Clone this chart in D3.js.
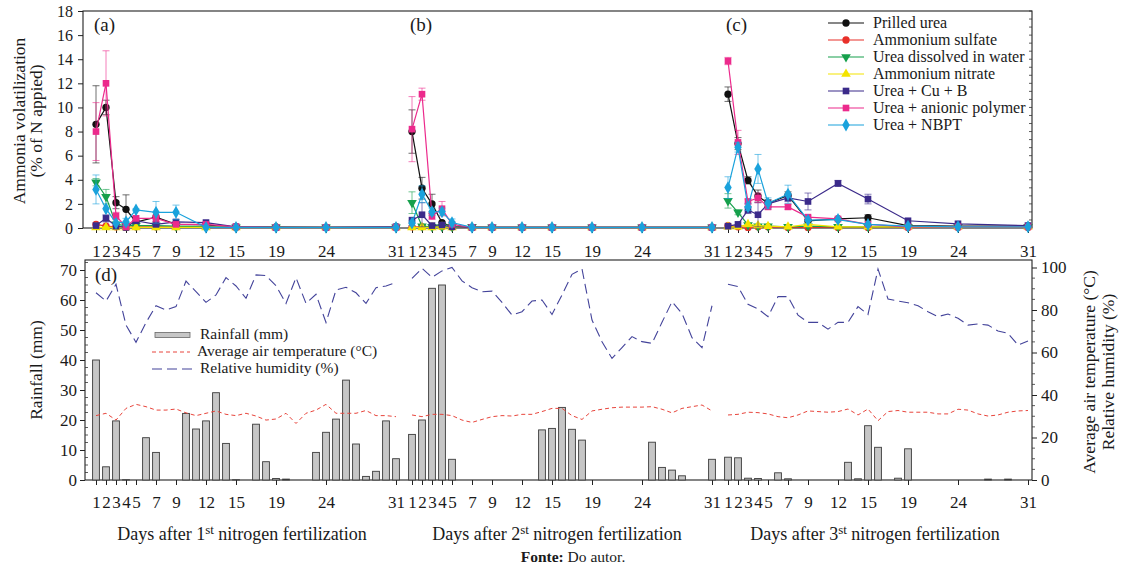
<!DOCTYPE html>
<html><head><meta charset="utf-8">
<script src="https://cdn.jsdelivr.net/npm/d3@7"></script>
<style>
body{margin:0;background:#fff;}
</style></head><body>
<svg id="c" width="1121" height="571"></svg>
<script>
// ---------------- DATA ----------------
const sampleDays = [1,2,3,4,5,7,9,12,15,19,24,31];
const dayTickLabels = ["1","2","3","4","5","7","9","12","15","19","24","31"];
const panelLabels = ["(a)","(b)","(c)"];
const seriesNames = ["Prilled urea","Ammonium sulfate","Urea dissolved in water","Ammonium nitrate","Urea + Cu + B","Urea + anionic polymer","Urea + NBPT"];

// ammonia volatilization (% of N applied), one row per fertilization (a, b, c)
const prilledUrea = [
  [8.6,10.0,2.1,1.55,0.5,0.9,0.3,0.25,0.1,0.1,0.05,0.1],
  [8.0,3.3,2.0,0.45,0.1,0.05,0.05,0.05,0.05,0.05,0.05,0.05],
  [11.1,7.0,3.95,2.65,2.05,2.7,0.6,0.75,0.85,0.2,0.15,0.15]];
const prilledUreaErr = [
  [3.2,0.6,0.5,1.2,0,0,0,0,0,0,0,0],
  [1.8,0.9,0.8,0,0,0,0,0,0,0,0,0],
  [0.6,0.5,0.3,0.5,0.3,0.3,0.1,0,0.25,0,0,0]];
const ammoniumSulfate = [
  [0.3,0.15,0.1,0.05,0.1,0.1,0.1,0.1,0.05,0.05,0.05,0.05],
  [0.1,0.1,0.1,0.1,0.1,0.05,0.05,0.05,0.05,0.05,0.05,0.05],
  [0.2,0.1,0.05,0.1,0.1,0.05,0.05,0.05,0.05,0.05,0.05,0.05]];
const ammoniumSulfateErr = [
  [0,0,0,0,0,0,0,0,0,0,0,0],[0,0,0,0,0,0,0,0,0,0,0,0],[0,0,0,0,0,0,0,0,0,0,0,0]];
const ureaDissolved = [
  [3.8,2.6,0.3,0.2,0.2,0.2,0.15,0.1,0.05,0.05,0.05,0.05],
  [2.1,0.15,0.1,0.1,0.1,0.1,0.05,0.05,0.05,0.05,0.05,0.05],
  [2.25,1.3,0.25,0.15,0.15,0.1,0.15,0.1,0.1,0.1,0.1,0.1]];
const ureaDissolvedErr = [
  [0.3,0.6,0,0,0,0,0,0,0,0,0,0],
  [0.9,0,0,0,0,0,0,0,0,0,0,0],
  [0.6,0.2,0,0,0,0,0,0,0,0,0,0]];
const ammoniumNitrate = [
  [0.05,0.05,0.05,0.05,0.05,0.05,0.05,0.05,0.05,0.05,0.05,0.05],
  [0.05,0.05,0.05,0.1,0.05,0.05,0.05,0.05,0.05,0.05,0.05,0.05],
  [0.1,0.1,0.3,0.2,0.15,0.1,0.3,0.1,0.1,0.1,0.1,0.1]];
const ammoniumNitrateErr = [
  [0,0,0,0,0,0,0,0,0,0,0,0],[0,0,0,0,0,0,0,0,0,0,0,0],[0,0,0,0,0,0,0,0,0,0,0,0]];
const ureaCuB = [
  [0.2,0.8,0.15,0.05,0.6,0.3,0.5,0.45,0.1,0.05,0.05,0.1],
  [0.65,1.1,0.2,0.25,0.1,0.05,0.05,0.05,0.05,0.05,0.05,0.05],
  [0.15,0.3,1.5,1.1,2.0,2.5,2.2,3.7,2.4,0.6,0.35,0.2]];
const ureaCuBErr = [
  [0,0.3,0,0,0,0,0,0,0,0,0,0],
  [0,1.0,0,0,0,0,0,0,0,0,0,0],
  [0,0,0.3,1.0,0.3,0.3,0.7,0.25,0.4,0,0,0]];
const ureaPolymer = [
  [8.0,12.0,1.0,0.1,0.8,0.8,0.3,0.3,0.1,0.05,0.05,0.05],
  [8.2,11.1,1.0,1.6,0.3,0.05,0.05,0.05,0.05,0.05,0.05,0.05],
  [13.85,7.1,2.2,2.5,1.75,1.75,0.9,0.75,0.3,0.1,0.1,0.1]];
const ureaPolymerErr = [
  [2.4,2.7,0.3,0,0.2,0.3,0,0,0,0,0,0],
  [2.7,0.5,0.3,0.6,0,0,0,0,0,0,0,0],
  [0.3,1.0,0.2,0.4,0.2,0.2,0.1,0.1,0,0,0,0]];
const ureaNBPT = [
  [3.2,1.6,0.4,0.5,1.5,1.3,1.3,0.05,0.05,0.05,0.05,0.05],
  [0.4,2.8,1.35,1.35,0.45,0.05,0.05,0.05,0.05,0.05,0.05,0.05],
  [3.35,6.7,1.75,4.9,2.05,2.8,0.65,0.7,0.3,0.15,0.1,0.1]];
const ureaNBPTErr = [
  [1.2,0,0,0.3,0.1,0.9,0.6,0,0,0,0,0],
  [0.2,0.7,0.3,0.3,0.3,0,0,0,0,0,0,0],
  [0.9,0.4,0.3,1.2,0.45,0.75,0,0,0,0,0,0]];

// daily weather, days 1..31 after each fertilization
const rainfall1 = [40,4.4,19.7,0.1,0,14.1,9.2,0,0,22.2,17,19.7,29.1,12.2,0.1,0,18.6,6.1,0.5,0.3,0,0,9.2,15.9,20.3,33.3,12,1.2,2.9,19.7,7.1];
const rainfall2 = [15.2,20,63.9,65,6.9,0,0,0,0,0,0,0,0,16.7,17.2,24.2,16.9,13.3,0,0,0,0,0,0,12.6,4.2,3.3,1.4,0,0,6.9];
const rainfall3 = [7.6,7.4,0.6,0.5,0,2.4,0.4,0,0,0,0,0,5.9,0.4,18.1,10.9,0,0.6,10.4,0,0,0,0,0,0,0,0.3,0,0.3,0,0];
const temperature1 = [30.3,31.4,28.2,33.7,35.6,34.5,32.9,32.9,33.4,31.6,30.3,31.4,32.5,30.9,30.3,31.4,30.1,28.2,28.7,31.4,26.6,31.4,32.9,35.6,31.4,31.4,31.4,32.7,30.3,30.3,29.8];
const temperature2 = [30.6,29.8,30.9,30.9,30.3,28.2,27.1,28.5,29.8,30.3,30.1,30.9,30.9,32.2,33.7,33.7,30.3,28.5,32.5,33.3,34.0,34.3,34.3,34.3,34.5,33.3,31.6,33.7,34.5,35.3,32.5];
const temperature3 = [30.6,30.9,31.9,31.7,31.1,29.8,29.3,30.6,32.5,32.2,31.9,32.2,33.4,30.6,33.4,27.9,32.2,32.7,31.9,31.9,31.9,31.1,31.1,33.3,32.9,31.1,30.1,30.6,31.9,32.5,32.7];
const humidity1 = [88.1,84.2,92.1,72.9,64.8,74.1,82.0,80.0,81.6,93.6,88.6,83.6,87.1,95.2,91.3,85.5,96.5,96.2,91.4,83.1,95.2,83.1,87.4,74.1,89.4,90.7,88.1,83.1,90.5,91.3,93.0];
const humidity2 = [94.9,99.6,95.4,98.4,100,93.7,90.5,88.6,88.9,83.6,77.6,79.2,84.2,84.7,77.9,87.1,96.8,99.3,75.3,65.1,57.2,62.3,67.5,65.1,64.3,74.2,83.9,78.4,67.0,62.3,82.0];
const humidity3 = [92.1,91.0,82.7,80.5,76.9,86.3,86.3,77.6,74.2,74.2,71.0,74.2,74.2,81.6,77.9,99.3,85.2,84.2,83.4,82.0,79.2,76.9,78.1,76.1,72.9,73.4,72.9,70.1,69.0,63.5,65.4];

const topTicks = [0,2,4,6,8,10,12,14,16,18];
const rainTicks = [0,10,20,30,40,50,60,70];
const rightTicks = [0,20,40,60,80,100];
const weatherLegend = ["Rainfall (mm)","Average air temperature (°C)","Relative humidity (%)"];

// ---------------- CHART ----------------
const svg = d3.select("#c");
const FONT = "'Liberation Serif', 'Times New Roman', Times, 'DejaVu Serif', serif";
svg.attr("font-family", FONT).style("font-family", FONT);
const SHIFT = 31.6;                       // spacing between fertilizations on the day axis
const gday = (p, d) => p * SHIFT + d;
const x = d3.scaleLinear().domain([1, gday(2, 31)]).range([96, 1028]);
const yTop = d3.scaleLinear().domain([0, 18]).range([228, 11]);
const yRain = d3.scaleLinear().domain([0, 70]).range([480, 270]);
const yRight = d3.scaleLinear().domain([0, 100]).range([480, 267.5]);

const colors = ["#111111","#e8302a","#16a04c","#f4e400","#3b2a8a","#ec2a8c","#1aa2dc"];
const symbols = [
  {t:d3.symbolCircle, s:42, r:0},
  {t:d3.symbolCircle, s:42, r:0},
  {t:d3.symbolTriangle, s:40, r:180},
  {t:d3.symbolTriangle, s:40, r:0},
  {t:d3.symbolSquare, s:44, r:0},
  {t:d3.symbolSquare, s:44, r:0},
  {t:d3.symbolDiamond, s:48, r:0}];
const values = [prilledUrea, ammoniumSulfate, ureaDissolved, ammoniumNitrate, ureaCuB, ureaPolymer, ureaNBPT];
const errors = [prilledUreaErr, ammoniumSulfateErr, ureaDissolvedErr, ammoniumNitrateErr, ureaCuBErr, ureaPolymerErr, ureaNBPTErr];

const allG = [];
[0,1,2].forEach(p => sampleDays.forEach(d => allG.push(gday(p, d))));

function styleAxis(g, size) {
  g.attr("font-family", FONT).attr("font-size", size);
  g.selectAll("text").attr("fill", "#1a1a1a").style("font-family", FONT);
  g.selectAll("line").attr("stroke", "#222");
  g.select(".domain").remove();
}
function txt(sel) { return sel.append("text").attr("fill", "#1a1a1a").style("font-family", FONT); }

// ---- top panel frame ----
const topG = svg.append("g");
topG.append("rect").attr("x", 83).attr("y", 11).attr("width", 1032 - 83).attr("height", 228 - 11)
  .attr("fill", "none").attr("stroke", "#222").attr("stroke-width", 1.1);
topG.append("g").selectAll("line").data(d3.range(0, 18.01, 2/3)).join("line")
  .attr("x1", 1032).attr("x2", 1029).attr("y1", d => yTop(d)).attr("y2", d => yTop(d))
  .attr("stroke", "#333").attr("stroke-width", 0.8);
topG.append("g").attr("transform", "translate(83,0)")
  .call(d3.axisLeft(yTop).tickValues(topTicks).tickSize(5).tickPadding(5).tickSizeOuter(0))
  .call(g => styleAxis(g, 16));
const pIndex = g => Math.floor((g - 0.5) / SHIFT);
const fmtG = g => { const p = pIndex(g); const i = sampleDays.findIndex(s => Math.abs(gday(p, s) - g) < 0.01); return dayTickLabels[i]; };
topG.append("g").attr("transform", "translate(0,228)")
  .call(d3.axisBottom(x).tickValues(allG).tickFormat(fmtG).tickSize(5).tickPadding(12).tickSizeOuter(0))
  .call(g => styleAxis(g, 17));

[0,1,2].forEach(p => {
  txt(topG).attr("x", x(gday(p, 1)) - 2).attr("y", 31).attr("font-size", 19).text(panelLabels[p]);
});

const line = d3.line().x(d => x(d.g)).y(d => yTop(d.v));
values.forEach((vals, si) => {
  const gS = topG.append("g");
  [0,1,2].forEach(p => {
    const pts = sampleDays.map((d, i) => ({g: gday(p, d), v: vals[p][i], e: errors[si][p][i]}));
    const eb = gS.append("g").attr("stroke", colors[si]).attr("stroke-opacity", 0.6).attr("stroke-width", 1);
    pts.filter(d => d.e > 0).forEach(d => {
      const y1 = yTop(d.v + d.e), y0 = yTop(Math.max(0, d.v - d.e)), cx = x(d.g);
      eb.append("line").attr("x1", cx).attr("x2", cx).attr("y1", y1).attr("y2", y0);
      eb.append("line").attr("x1", cx - 3.5).attr("x2", cx + 3.5).attr("y1", y1).attr("y2", y1);
      eb.append("line").attr("x1", cx - 3.5).attr("x2", cx + 3.5).attr("y1", y0).attr("y2", y0);
    });
    gS.append("path").datum(pts).attr("d", line).attr("fill", "none")
      .attr("stroke", colors[si]).attr("stroke-width", 1.2);
    gS.append("g").selectAll("path").data(pts).join("path")
      .attr("d", d3.symbol().type(symbols[si].t).size(symbols[si].s))
      .attr("transform", d => `translate(${x(d.g)},${yTop(d.v)}) rotate(${symbols[si].r})`)
      .attr("fill", colors[si]);
  });
});

// top legend
const leg = svg.append("g");
seriesNames.forEach((n, i) => {
  const y = 23 + i * 17;
  leg.append("line").attr("x1", 828).attr("x2", 864).attr("y1", y).attr("y2", y)
    .attr("stroke", colors[i]).attr("stroke-width", 1.2);
  leg.append("path").attr("d", d3.symbol().type(symbols[i].t).size(symbols[i].s))
    .attr("transform", `translate(846,${y}) rotate(${symbols[i].r})`).attr("fill", colors[i]);
  txt(leg).attr("x", 873).attr("y", y + 5).attr("font-size", 16).text(n);
});

// ---- bottom panel ----
const bot = svg.append("g");
bot.append("rect").attr("x", 85).attr("y", 260).attr("width", 1032 - 85).attr("height", 220)
  .attr("fill", "none").attr("stroke", "#222").attr("stroke-width", 1.1);
bot.append("g").attr("transform", "translate(85,0)")
  .call(d3.axisLeft(yRain).tickValues(rainTicks).tickSize(5).tickPadding(3).tickSizeOuter(0))
  .call(g => styleAxis(g, 17));
bot.append("g").selectAll("line").data(d3.range(0, 72.6, 2.5).filter(v => v % 10 !== 0)).join("line")
  .attr("x1", 85).attr("x2", 88).attr("y1", d => yRain(d)).attr("y2", d => yRain(d))
  .attr("stroke", "#333").attr("stroke-width", 0.8);
bot.append("g").attr("transform", "translate(1032,0)")
  .call(d3.axisRight(yRight).tickValues(rightTicks).tickSize(5).tickPadding(4).tickSizeOuter(0))
  .call(g => styleAxis(g, 17));
bot.append("g").selectAll("line").data(d3.range(0, 103, 5).filter(v => v % 20 !== 0)).join("line")
  .attr("x1", 1032).attr("x2", 1035).attr("y1", d => yRight(d)).attr("y2", d => yRight(d))
  .attr("stroke", "#333").attr("stroke-width", 0.8);
bot.append("g").attr("transform", "translate(0,480)")
  .call(d3.axisBottom(x).tickValues(allG).tickFormat(fmtG).tickSize(5).tickPadding(11).tickSizeOuter(0))
  .call(g => styleAxis(g, 17));

txt(bot).attr("x", 95).attr("y", 281).attr("font-size", 19).text("(d)");

const rains = [rainfall1, rainfall2, rainfall3];
const temps = [temperature1, temperature2, temperature3];
const hums = [humidity1, humidity2, humidity3];
const days31 = d3.range(1, 32);
[0,1,2].forEach(p => {
  const bars = days31.map((d, i) => ({g: gday(p, d), v: rains[p][i]})).filter(d => d.v > 0);
  bot.append("g").selectAll("rect").data(bars).join("rect")
    .attr("x", d => x(d.g) - 3.4).attr("width", 6.8)
    .attr("y", d => yRain(d.v)).attr("height", d => yRain(0) - yRain(d.v))
    .attr("fill", "#c6c6c6").attr("stroke", "#3a3a3a").attr("stroke-width", 0.9);
});
const rline = d3.line().x(d => x(d.g)).y(d => yRight(d.v));
[0,1,2].forEach(p => {
  bot.append("path").datum(days31.map((d, i) => ({g: gday(p, d), v: temps[p][i]})))
    .attr("d", rline).attr("fill", "none").attr("stroke", "#e8453c").attr("stroke-width", 1)
    .attr("stroke-dasharray", "4,3");
  bot.append("path").datum(days31.map((d, i) => ({g: gday(p, d), v: hums[p][i]})))
    .attr("d", rline).attr("fill", "none").attr("stroke", "#43439a").attr("stroke-width", 1.1)
    .attr("stroke-dasharray", "10,5");
});

// bottom legend
const bl = svg.append("g");
bl.append("rect").attr("x", 155).attr("y", 332.5).attr("width", 35).attr("height", 5)
  .attr("fill", "#c6c6c6").attr("stroke", "#666").attr("stroke-width", 0.8);
txt(bl).attr("x", 200).attr("y", 339).attr("font-size", 15.5).text(weatherLegend[0]);
bl.append("line").attr("x1", 152).attr("x2", 190).attr("y1", 352).attr("y2", 352)
  .attr("stroke", "#e8453c").attr("stroke-width", 1).attr("stroke-dasharray", "4,3");
txt(bl).attr("x", 197).attr("y", 356).attr("font-size", 15.5).text(weatherLegend[1]);
bl.append("line").attr("x1", 152).attr("x2", 192).attr("y1", 369).attr("y2", 369)
  .attr("stroke", "#43439a").attr("stroke-width", 1.1).attr("stroke-dasharray", "10,5");
txt(bl).attr("x", 200).attr("y", 373).attr("font-size", 15.5).text(weatherLegend[2]);

// axis titles
const vt = (tx, ty, s, size) => txt(svg).attr("transform", `translate(${tx},${ty}) rotate(-90)`)
  .attr("text-anchor", "middle").attr("font-size", size).text(s);
vt(25, 121, "Ammonia volatilization", 17.5);
vt(42, 121, "(% of N appied)", 17.5);
vt(42, 370, "Rainfall (mm)", 17.5);
vt(1095, 372, "Average air temperature (°C)", 17.5);
vt(1114, 372, "Relative humidity (%)", 17.5);

const ords = ["1","2","3"];
const centers = [242, 557, 875];
ords.forEach((o, i) => {
  const t = txt(svg).attr("x", centers[i]).attr("y", 540).attr("text-anchor", "middle").attr("font-size", 18);
  t.append("tspan").text("Days after " + o);
  t.append("tspan").attr("font-size", 13).attr("dy", -6).text("st");
  t.append("tspan").attr("dy", 6).text(" nitrogen fertilization");
});
const f = txt(svg).attr("x", 573).attr("y", 562).attr("text-anchor", "middle").attr("font-size", 15.5);
f.append("tspan").attr("font-weight", "bold").text("Fonte:");
f.append("tspan").text(" Do autor.");
</script>
</body></html>
